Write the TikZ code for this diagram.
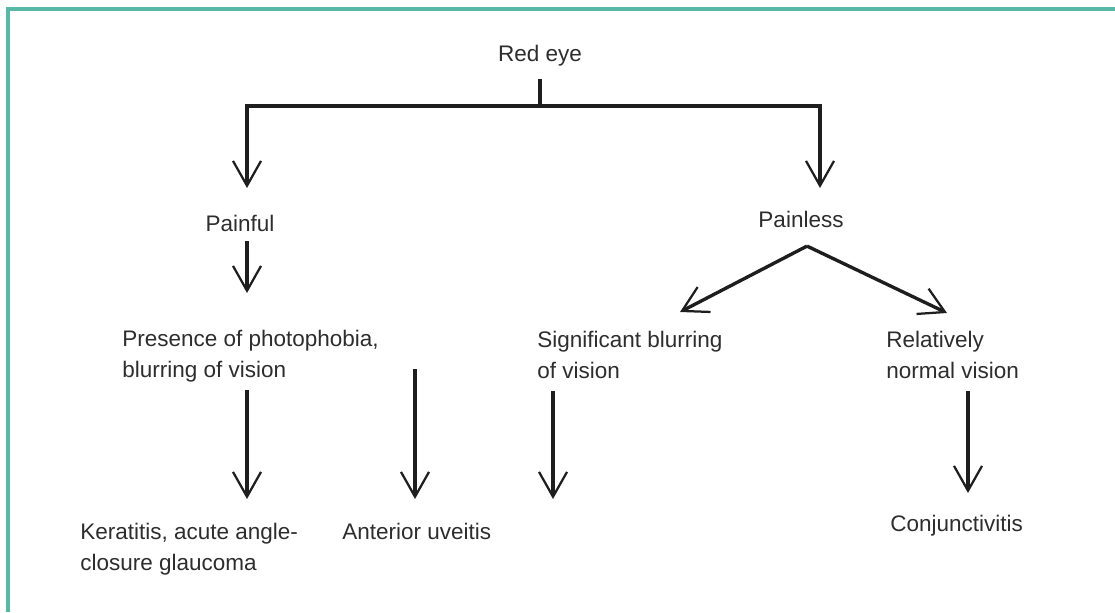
\documentclass[tikz,border=0pt]{standalone}
\usepackage{fontspec}
\setmainfont{Liberation Sans}
\usepackage{xcolor}
\usepackage{tikz}
\usetikzlibrary{arrows.meta, positioning, calc}
\definecolor{frameteal}{RGB}{88,184,168}
\definecolor{inkdark}{RGB}{30,30,30}
\definecolor{textgrey}{RGB}{45,45,45}
\tikzset{
  term/.style={inner sep=0pt, align=left, text=textgrey,
    font=\fontsize{16}{22}\selectfont},
  arrow/.style={-{Straight Barb[length=0.62cm, width=0.7cm, line width=1.6pt]},
    line width=2.4pt, color=inkdark},
  bar/.style={draw, line width=2.4pt, color=inkdark}
}

\begin{document}
\begin{tikzpicture}[x=0.025cm, y=-0.025cm]
  \useasboundingbox (0,0) rectangle (1115,612);

  % Frame (only top and left edges show)
  \draw[frameteal, line width=2.2pt] (1115,9) -- (8,9) -- (8,612);

  % Top node
  \node[term, anchor=north] (redeye) at (540,45) {Red eye};
  \coordinate (fork) at (540,106);

  % Second level
  \node[term, anchor=north] (painful) at (240,215) {Painful};
  \node[term, anchor=north] (painless) at (801,211) {Painless};

  % Third level
  \node[term, anchor=north west] (presence) at (122,330) {Presence of photophobia,\\blurring of vision};
  \node[term, anchor=north west] (blurring) at (537,331) {Significant blurring\\of vision};
  \node[term, anchor=north west] (normal) at (886,331) {Relatively\\normal vision};

  % Diagnoses
  \node[term, anchor=north west] (keratitis) at (80,523) {Keratitis, acute angle-\\closure glaucoma};
  \node[term, anchor=north west] (uveitis) at (342,523) {Anterior uveitis};
  \node[term, anchor=north west] (conj) at (890,515) {Conjunctivitis};

  % Connections
  \draw[bar] ($(redeye.south)+(0,12)$) -- (fork);
  \draw[arrow] (fork) -| ($(painful.north)+(7,-27)$);
  \draw[arrow] (fork) -| ($(painless.north)+(19,-23)$);

  \draw[arrow] ($(painful.south)+(7,9)$) -- ($(presence.north west)+(125,-37)$);
  \draw[arrow] ($(presence.south west)+(125,8)$) -- ($(keratitis.north west)+(167,-24)$);
  \draw[arrow] ($(presence.south west)+(293,-13)$) -- ($(uveitis.north west)+(73,-24)$);
  \draw[arrow] ($(blurring.south west)+(16,12)$) -- ($(uveitis.north west)+(211,-24)$);

  \draw[arrow] ($(painless.south)+(6,18)$) -- ($(blurring.north west)+(143,-19)$);
  \draw[arrow] ($(painless.south)+(6,18)$) -- ($(normal.north west)+(61,-18)$);
  \draw[arrow] ($(normal.south west)+(82,12)$) -- ($(conj.north west)+(78,-22)$);
\end{tikzpicture}
\end{document}
